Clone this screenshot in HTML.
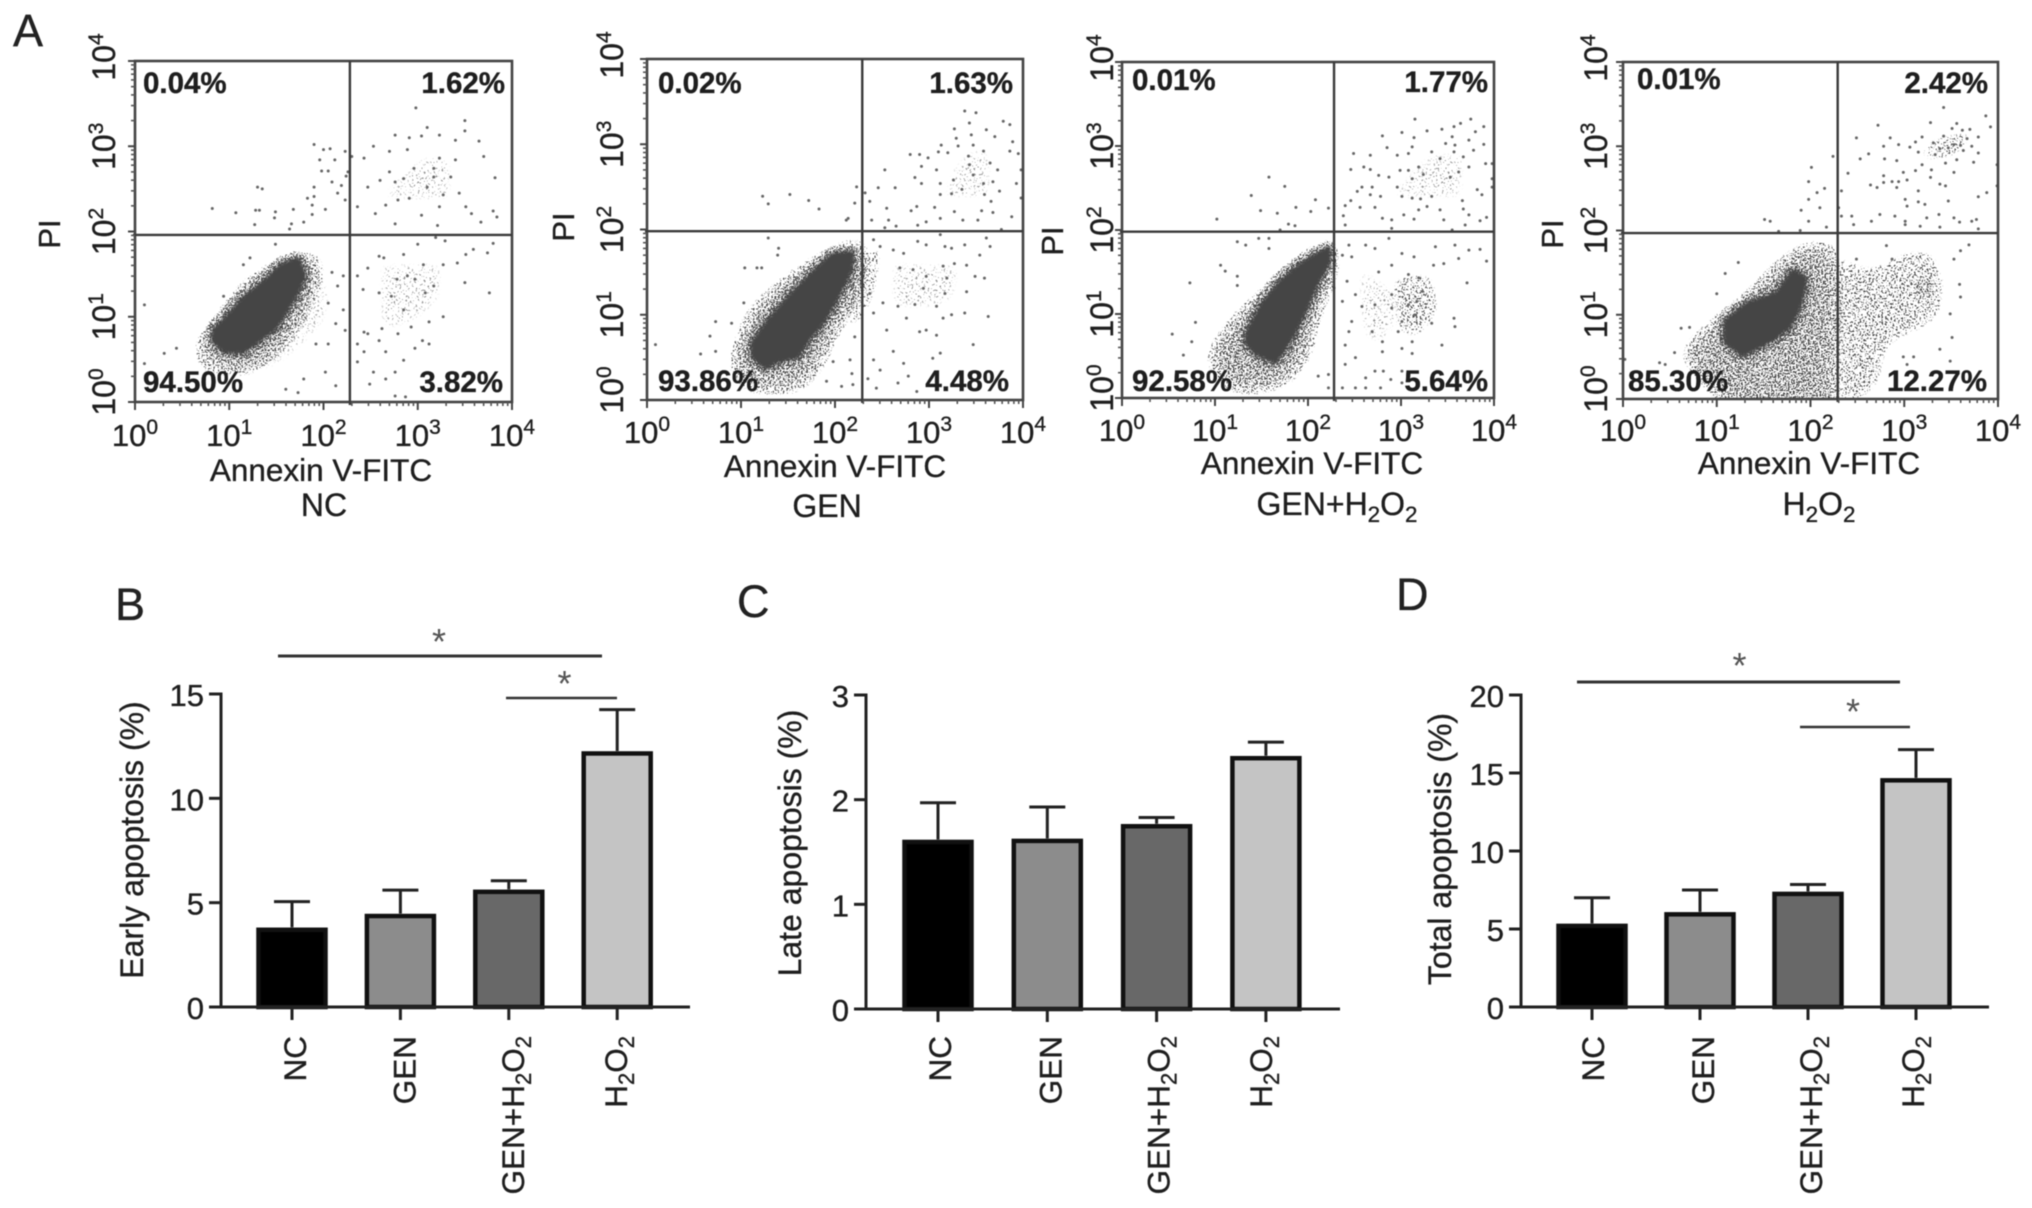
<!DOCTYPE html>
<html lang="en">
<head>
<meta charset="utf-8">
<title>Apoptosis flow cytometry and bar charts</title>
<style>
html,body{margin:0;padding:0;background:#fff;}
svg{display:block;filter:blur(0.6px);}
text{font-family:"Liberation Sans",Arial,sans-serif;fill:#1e1e1e;stroke:#1e1e1e;stroke-width:.35px;}
.pct{font-weight:bold;font-size:29.5px;}
.panel{font-size:45px;fill:#222;}
</style>
</head>
<body>
<svg id="figure" xmlns="http://www.w3.org/2000/svg" width="2032" height="1208" viewBox="0 0 2032 1208">
<rect width="2032" height="1208" fill="#fff"/>
<defs>
<filter id="stip-sparse" x="-30%" y="-30%" width="160%" height="160%" color-interpolation-filters="sRGB">
<feGaussianBlur in="SourceAlpha" stdDeviation="14" result="m"/>
<feTurbulence type="fractalNoise" baseFrequency="0.5" numOctaves="2" seed="21" result="n"/>
<feColorMatrix in="n" type="matrix" values="0 0 0 0 0 0 0 0 0 0 0 0 0 0 0 3.2 0 0 0 -1.1" result="na"/>
<feComposite in="m" in2="na" operator="arithmetic" k1="1" k2="0" k3="0" k4="0" result="mn"/>
<feComponentTransfer in="mn" result="th"><feFuncA type="linear" slope="14" intercept="-13.4"/></feComponentTransfer>
<feFlood flood-color="#4a4a4a"/><feComposite in2="th" operator="in"/>
</filter>
<filter id="stip-low" x="-30%" y="-30%" width="160%" height="160%" color-interpolation-filters="sRGB">
<feGaussianBlur in="SourceAlpha" stdDeviation="10" result="m"/>
<feTurbulence type="fractalNoise" baseFrequency="0.55" numOctaves="2" seed="3" result="n"/>
<feColorMatrix in="n" type="matrix" values="0 0 0 0 0 0 0 0 0 0 0 0 0 0 0 3.2 0 0 0 -1.1" result="na"/>
<feComposite in="m" in2="na" operator="arithmetic" k1="1" k2="0" k3="0" k4="0" result="mn"/>
<feComponentTransfer in="mn" result="th"><feFuncA type="linear" slope="14" intercept="-10.8"/></feComponentTransfer>
<feFlood flood-color="#4a4a4a"/><feComposite in2="th" operator="in"/>
</filter>
<filter id="stip-mid" x="-30%" y="-30%" width="160%" height="160%" color-interpolation-filters="sRGB">
<feGaussianBlur in="SourceAlpha" stdDeviation="11" result="m"/>
<feTurbulence type="fractalNoise" baseFrequency="0.6" numOctaves="2" seed="8" result="n"/>
<feColorMatrix in="n" type="matrix" values="0 0 0 0 0 0 0 0 0 0 0 0 0 0 0 3.2 0 0 0 -1.1" result="na"/>
<feComposite in="m" in2="na" operator="arithmetic" k1="1" k2="0" k3="0" k4="0" result="mn"/>
<feComponentTransfer in="mn" result="th"><feFuncA type="linear" slope="14" intercept="-8.7"/></feComponentTransfer>
<feFlood flood-color="#4a4a4a"/><feComposite in2="th" operator="in"/>
</filter>
<filter id="stip-high" x="-30%" y="-30%" width="160%" height="160%" color-interpolation-filters="sRGB">
<feGaussianBlur in="SourceAlpha" stdDeviation="11" result="m"/>
<feTurbulence type="fractalNoise" baseFrequency="0.6" numOctaves="2" seed="14" result="n"/>
<feColorMatrix in="n" type="matrix" values="0 0 0 0 0 0 0 0 0 0 0 0 0 0 0 3.2 0 0 0 -1.1" result="na"/>
<feComposite in="m" in2="na" operator="arithmetic" k1="1" k2="0" k3="0" k4="0" result="mn"/>
<feComponentTransfer in="mn" result="th"><feFuncA type="linear" slope="14" intercept="-7.7"/></feComponentTransfer>
<feFlood flood-color="#4a4a4a"/><feComposite in2="th" operator="in"/>
</filter>
<filter id="stip-dense" x="-30%" y="-30%" width="160%" height="160%" color-interpolation-filters="sRGB">
<feGaussianBlur in="SourceAlpha" stdDeviation="7" result="m"/>
<feTurbulence type="fractalNoise" baseFrequency="0.6" numOctaves="2" seed="31" result="n"/>
<feColorMatrix in="n" type="matrix" values="0 0 0 0 0 0 0 0 0 0 0 0 0 0 0 3.2 0 0 0 -1.1" result="na"/>
<feComposite in="m" in2="na" operator="arithmetic" k1="1" k2="0" k3="0" k4="0" result="mn"/>
<feComponentTransfer in="mn" result="th"><feFuncA type="linear" slope="14" intercept="-5.4"/></feComponentTransfer>
<feFlood flood-color="#4a4a4a"/><feComposite in2="th" operator="in"/>
</filter>
<filter id="soft" x="-10%" y="-10%" width="120%" height="120%"><feGaussianBlur stdDeviation="1.5"/></filter>
</defs>
<text class="panel" x="13" y="46">A</text>
<text class="panel" x="115" y="620">B</text>
<text class="panel" x="737" y="617">C</text>
<text class="panel" x="1396" y="610">D</text>
</svg>
<script>
// ---- flow cytometry data, in log10 decades (x = Annexin V-FITC, y = PI) ----
const decadeTicks = [0, 1, 2, 3, 4];
const ncPercents = ["0.04%", "1.62%", "94.50%", "3.82%"];
const genPercents = ["0.02%", "1.63%", "93.86%", "4.48%"];
const genH2o2Percents = ["0.01%", "1.77%", "92.58%", "5.64%"];
const h2o2Percents = ["0.01%", "2.42%", "85.30%", "12.27%"];

const ncCore = [.84,.84,.99,1,1.145,1.2,1.37,1.4,1.56,1.6,1.73,1.67,1.79,1.48,1.71,1.28,1.6,1.08,1.49,.88,1.3,.72,1.145,.6,.955,.6,.84,.72];
const ncHalo = [.58,.68,.8,1,1.15,1.48,1.6,1.77,1.98,1.81,2.05,1.48,1.87,1,1.6,.55,1.22,.27,.69,.31];
const ncLow = [1.6,1.85,2.3,1.6,2.3,.9,1.9,.4,1.5,.1,1,.1,.6,.5];
const ncLowerRight = [2.35,1.9,3.5,1.9,3.5,1.1,3.1,.7,2.5,.5,2.35,.9];
const ncUpperRight = [2.35,2.1,3.6,2.1,3.6,3.1,3,3.2,2.4,2.6];
const ncPoints = [2.98,3.45,3.5,3.3,3.5,3.18,3.1,3.22,2.76,3.13,3.23,3.13,3.04,3.12,2.91,3.1,3.65,3.06,3.4,3.07,2.53,3,2.89,2.96,2.7,2.94,3.7,2.88,3.4,2.84,3.23,2.86,2.43,2.86,2.3,2.88,3.17,2.74,2.96,2.74,2.7,2.7,3.82,2.63,3.35,2.64,3.17,2.64,2.85,2.62,2.6,2.6,2.76,2.58,2.47,2.52,3.1,2.52,3.27,2.43,2.91,2.39,2.79,2.37,2.66,2.31,3.44,2.45,3.51,2.29,3.23,2.29,2.36,2.29,2.55,2.21,3.04,2.19,3.57,2.21,3.8,2.24,3.84,2.17,2.76,2.09,3.21,2.07,3.67,2.11,1.9,3.02,2,2.96,2.07,2.97,2.23,2.94,1.96,2.84,2.12,2.84,1.98,2.71,2.05,2.71,2.26,2.7,2.24,2.65,2.09,2.58,2.19,2.54,1.3,2.52,1.35,2.5,1.9,2.52,2.15,2.45,1.83,2.39,1.9,2.41,1.88,2.31,2.23,2.37,.82,2.27,1.07,2.22,1.28,2.25,1.32,2.25,1.49,2.23,1.48,2.16,1.68,2.26,2.02,2.26,1.88,2.2,1.79,2.11,1.66,2.09,1.64,2.03,1.27,2.08,2.59,1.71,2.64,1.69,3,1.85,2.85,1.73,3.19,1.93,3.29,1.89,3.42,1.63,3.51,1.73,3.8,1.86,3.59,1.79,3.74,1.75,3.06,1.61,3.27,1.61,2.89,1.48,2.78,1.44,2.97,1.44,2.47,1.57,2.36,1.48,2.42,1.32,2.59,1.28,2.72,1.24,2.85,1.08,3.08,1.28,3.17,1.36,3.5,1.4,3.76,1.28,3.27,1,3.12,.94,2.93,.88,2.79,.8,2.62,.86,2.43,.82,2.47,.8,3.05,.72,3.12,.68,2.59,.72,2.36,.68,2.43,.59,2.66,.59,2.97,.63,2.85,.49,2.36,.47,2.53,.35,2.66,.27,2.76,.35,2.49,.21,2.76,.07,2.87,.06,2.21,1.48,2.09,1.52,2.15,1.36,2.05,1.16,2.21,1.08,2.13,.92,2.23,.84,2.05,.68,2.02,.35,1.79,.27,1.6,.15,1.73,.11,2.13,.19,1.92,.68,.1,1.14,.94,1.24,1.15,1.61,1.22,1.69,1.49,1.85,.31,.57,.44,.63,.1,.45];

const genCore = [1.13,.67,1.31,.94,1.52,1.21,1.77,1.49,1.98,1.7,2.18,1.72,2.16,1.53,2.02,1.21,1.88,.94,1.7,.7,1.59,.51,1.38,.47,1.27,.39,1.13,.51];
const genHalo = [.85,.55,1.03,1.06,1.31,1.37,1.7,1.68,2.12,1.92,2.37,1.92,2.41,1.64,2.27,1.14,2.05,.7,1.88,.31,1.63,.04,1.06,.04,.85,.31];
const genLow = [2.3,1.9,2.6,1.9,2.5,1.2,2.3,.8,2.1,.6,2,1.2];
const genLowerRight = [2.35,1.9,3.6,1.85,3.5,1,3.1,.8,2.5,.8,2.35,1.1];
const genUpperRight = [2.8,2.1,3.9,2.1,3.9,3.1,3.4,3.3,3,2.8];
const genPoints = [3.38,3.39,3.5,3.37,3.43,3.25,3.27,3.18,3.79,3.27,3.86,3.23,3.61,3.17,3.7,3.09,3.45,3.11,3.89,3.03,3.29,3.07,3.13,2.99,3.31,2.98,3.47,2.99,3.86,2.92,3.95,2.89,3.58,2.92,3.2,2.9,2.8,2.88,2.9,2.88,2.99,2.84,3.42,2.86,3.1,2.91,3.43,2.76,2.92,2.74,3.08,2.7,2.53,2.7,3.65,2.78,3.73,2.7,3.98,2.7,3.47,2.64,3.26,2.58,2.85,2.61,2.92,2.54,3.12,2.54,3.58,2.54,3.68,2.56,3.93,2.54,2.64,2.49,2.46,2.49,2.23,2.5,3.35,2.47,3.75,2.45,3.12,2.41,3.24,2.42,2.32,2.43,3.59,2.41,3.98,2.37,3.66,2.33,2.37,2.33,2.21,2.31,2.87,2.27,3.06,2.26,2.55,2.25,2.81,2.22,3.27,2.21,3.56,2.22,3.68,2.2,3.88,2.15,2.39,2.11,3.12,2.13,2.97,2.09,3.36,2.11,3.52,2.11,2.57,2.11,2.53,2.02,2.65,2.04,2.88,2.05,3.77,2,1.23,2.39,1.52,2.41,1.29,2.3,1.72,2.34,1.83,2.24,2.12,2.11,2.14,2.13,2.88,1.86,2.97,1.82,3.12,1.94,3.17,1.8,3.24,1.78,3.38,1.82,3.65,1.8,3.61,1.9,3.54,1.7,2.62,1.76,2.73,1.72,2.48,1.8,2.41,1.88,2.69,1.55,2.83,1.53,3.15,1.57,3.27,1.6,3.4,1.58,3.59,1.43,3.49,1.45,2.97,1.45,3.19,1.43,2.94,1.31,3.17,1.25,3.4,1.27,2.85,1.12,2.67,1.1,3.08,1.1,3.24,1,3.38,1.02,3.63,.98,3.15,.96,2.76,.96,2.51,1.14,2.37,1.25,2.41,1.02,2.55,.82,2.9,.8,2.97,.82,3.08,.76,3.47,.65,2.62,.57,3.12,.55,3.04,.49,2.73,.43,2.41,.47,2.35,.25,2.48,.35,2.78,.28,2.67,.2,2.44,.14,2.87,.1,1.04,1.55,1.17,1.55,1.22,1.55,1.4,1.78,1.39,1.7,1.29,1.9,.73,.92,.9,.9,.67,.75,.09,.65,.57,.54,.73,.57,1.03,1.14,2.16,.47,2.19,.18,2.07,.16,1.91,.22,2.18,.31,1.98,.45,2.21,.74];

const genH2o2Core = [1.36,.79,1.51,1.11,1.72,1.39,1.97,1.62,2.22,1.78,2.22,1.62,2.08,1.35,1.94,.99,1.83,.75,1.65,.44,1.43,.55,1.34,.67];
const genH2o2Halo = [.93,.67,1.18,1.03,1.47,1.31,1.72,1.62,2.15,1.86,2.4,1.78,2.33,1.39,2.15,.91,2.08,.51,1.83,.12,1.43,0,1.11,.04,.86,.4];
const genH2o2Low = [2.3,1.9,2.7,1.8,3.3,1.3,3.2,.7,2.8,.3,2.4,.5,2.3,1];
const genH2o2Cluster = [2.8,1.5,3.4,1.6,3.5,1,3.2,.6,2.9,.7];
const genH2o2Upper = [2.5,2.1,3.9,2.1,3.95,3.2,3.2,3.2,2.7,2.6];
const genH2o2Points = [3.15,3.32,3.75,3.32,3.64,3.27,3.57,3.23,3.89,3.23,3.8,3.17,3.44,3.2,3.01,3.16,3.28,3.18,2.8,3.12,3.14,3.1,3.55,3.11,3.73,3.07,3.48,3.03,3.89,3.02,3.58,3.01,3.12,2.99,2.85,2.98,3.33,2.93,3.78,2.95,2.49,2.91,3.08,2.91,3.57,2.93,2.96,2.89,2.67,2.89,3.42,2.85,3.67,2.87,3.91,2.79,3.98,2.79,2.6,2.75,2.46,2.72,2.67,2.72,3.19,2.75,3.08,2.71,3.62,2.69,2.99,2.71,3.73,2.75,2.76,2.65,2.87,2.63,3.24,2.66,3.53,2.63,3.98,2.61,3.12,2.61,2.96,2.51,2.58,2.51,2.69,2.51,3.82,2.48,3.98,2.51,2.53,2.46,2.67,2.42,3.87,2.42,3.01,2.4,2.78,2.4,3.33,2.4,3.12,2.38,3.21,2.37,3.66,2.35,2.46,2.35,2.4,2.29,3.28,2.28,2.56,2.27,2.72,2.27,3.67,2.25,3.42,2.24,3.19,2.24,3.92,2.15,3.03,2.18,3.73,2.18,3.14,2.13,2.38,2.17,3.46,2.12,3.85,2.11,2.9,2.12,2.8,2.14,3.69,2.06,2.4,2.06,2.9,2.02,3.55,2,1.58,2.63,1.75,2.52,1.39,2.41,1.02,2.13,1.49,2.23,1.67,2.2,1.87,2.27,2.08,2.36,2.03,2.22,2.22,2.26,1.79,2.07,1.86,2.05,1.7,2,3.92,1.63,3.85,1.77,3.73,1.76,3.58,1.82,3.62,1.66,3.71,1.37,3.37,1.8,3.46,1.6,3.35,1.58,3.14,1.68,3.01,1.72,2.87,1.9,2.72,1.78,2.9,1.58,2.76,1.5,3.08,1.47,3.19,1.43,3.23,1.27,2.9,1.23,2.9,1.07,3.08,1.11,3.17,1.15,3.01,.91,3.15,.99,3.33,.89,3.57,.95,3.58,.85,2.97,.79,3.12,.67,3.44,.63,3.01,.59,3.12,.53,2.72,1.11,2.58,1.09,2.47,.91,2.44,.79,2.69,.79,2.51,.48,2.8,.67,2.8,.55,2.4,.63,2.4,.4,2.62,.24,2.72,.32,2.81,.32,3.01,.32,2.89,.22,3.01,.18,2.78,.12,2.62,.12,2.51,.12,2.37,.12,2.22,.28,2.11,.26,2.22,.12,2.37,1.7,2.47,1.68,2.44,1.82,2.62,1.82,2.37,1.15,2.28,1.31,2.42,1.39,2.51,1.23,1.24,1.86,1.33,1.82,1.47,1.9,1.58,1.9,1.58,1.78,1.06,1.58,1.11,1.51,1.24,1.45,1.24,1.34,.73,1.37,.54,.76,.79,.9,.66,.51,.75,.67];

const h2o2Core = [1.1,.92,1.32,1.12,1.64,1.24,1.82,1.51,1.94,1.43,1.89,1.15,1.78,.88,1.6,.72,1.28,.53,1.1,.68];
const h2o2Halo = [.71,.76,1,1.04,1.32,1.32,1.57,1.63,1.92,1.9,2.3,1.9,2.38,1.24,2.34,.53,2.34,-.2,1.1,-.2,.72,.29,.55,.53];
const h2o2Right = [2.18,1.86,2.64,1.62,3.03,1.86,3.38,1.82,3.52,1.38,3.45,.92,3.17,.72,2.88,.6,2.81,.13,2.46,-.2,2.18,-.2];
const h2o2Cluster = [3.03,1.3,3.17,1.58,3.35,1.58,3.38,1.34,3.28,1.11,3.1,1.11];
const h2o2Upper = [3.1,3.1,3.7,3.3,3.9,3.2,3.6,2.8,3.1,2.7];
const h2o2Points = [3.42,3.46,3.87,3.36,2.72,3.25,3.28,3.28,3.92,3.23,3.56,3.27,3.7,3.2,3.62,3.19,3.51,3.21,2.49,3.1,2.85,3.1,3.19,3.11,3.42,3.12,3.79,3.11,3.67,3.09,3.12,3.05,2.94,3.02,3.31,3.04,3.53,3.02,3.6,3.01,3.72,3,2.78,3,3.06,2.99,3.38,2.97,3.47,2.98,3.63,2.95,3.79,2.92,2.62,2.91,3.15,2.93,3.33,2.9,2.53,2.85,2.79,2.85,2.92,2.83,2.24,2.88,3.56,2.84,3.74,2.81,3.19,2.78,3.12,2.71,3.29,2.72,3.44,2.8,2.99,2.69,3.99,2.78,2.01,2.75,2.4,2.68,3.53,2.69,3.03,2.6,1.98,2.58,2.78,2.65,3.28,2.63,2.94,2.58,2.87,2.58,2.64,2.54,2.78,2.57,3.38,2.55,3.44,2.53,2.71,2.51,3.99,2.53,2.92,2.51,2.15,2.5,2.07,2.45,2.33,2.47,3.15,2.47,3.88,2.45,3.79,2.4,1.98,2.37,3.01,2.37,3.15,2.34,3.22,2.31,3.47,2.35,2.1,2.27,3.03,2.29,1.9,2.24,2.74,2.19,2.3,2.27,2.44,2.17,2.33,2.17,2.9,2.17,3.37,2.19,3.24,2.15,3.53,2.15,2.65,2.11,3.01,2.11,3.72,2.11,3.59,2.1,3.77,2.13,1.51,2.13,1.57,2.11,1.98,2.11,2.46,2.07,3.01,2.07,3.38,2.04,3.17,2.05,3.79,2.02,1.66,1.99,1.89,2,2.17,2.04,3.69,1.83,3.6,1.76,3.53,1.66,3.59,1.36,3.6,1.21,3.49,1.01,3.51,.73,3.38,.59,3.49,.45,2.49,1.66,2.81,1.82,2.87,1.66,3.03,.41,2.99,.5,3.1,.5,1.23,1.62,1.09,1.49,1,1.25,.62,.84,.71,.85,.39,.43,.45,.41,.02,.47,.55,.55];

// ---- bar chart data ----
const barCategories = ["NC", "GEN", "GEN+H2O2", "H2O2"];
const earlyMeans = [3.82, 4.48, 5.64, 12.27];
const earlyErrorTops = [5.05, 5.6, 6.05, 14.25];
const earlyTicks = [0, 5, 10, 15];
const lateMeans = [1.62, 1.63, 1.77, 2.42];
const lateErrorTops = [1.97, 1.93, 1.83, 2.55];
const lateTicks = [0, 1, 2, 3];
const totalMeans = [5.36, 6.1, 7.41, 14.69];
const totalErrorTops = [7, 7.5, 7.85, 16.5];
const totalTicks = [0, 5, 10, 15, 20];
const barFills = ["#000000", "#8c8c8c", "#686868", "#c4c4c4"];

const SVGNS = "http://www.w3.org/2000/svg";
const figure = document.getElementById("figure");

function make(parent, tag, attrs) {
  const el = document.createElementNS(SVGNS, tag);
  for (const k in attrs) el.setAttribute(k, attrs[k]);
  parent.appendChild(el);
  return el;
}
function line(parent, x1, y1, x2, y2, color, width) {
  return make(parent, "line", {x1: x1, y1: y1, x2: x2, y2: y2, stroke: color, "stroke-width": width});
}
function richLabel(el, label, size) {
  // digits after a letter in chemical names become subscripts
  const parts = label.match(/[A-Za-z+]+|\d/g);
  let shift = 0;
  parts.forEach(function (p) {
    const t = document.createElementNS(SVGNS, "tspan");
    if (/\d/.test(p)) {
      t.setAttribute("font-size", size * 0.7);
      t.setAttribute("dy", 7 - shift);
      shift = 7;
    } else {
      t.setAttribute("dy", -shift);
      shift = 0;
    }
    t.textContent = p;
    el.appendChild(t);
  });
}
function powerLabel(el, exponent) {
  const base = document.createElementNS(SVGNS, "tspan");
  base.textContent = "10";
  el.appendChild(base);
  const sup = document.createElementNS(SVGNS, "tspan");
  sup.setAttribute("font-size", 21);
  sup.setAttribute("dy", -12);
  sup.textContent = String(exponent);
  el.appendChild(sup);
}

function drawFlow(name, frame, gateX, gateY, percents, percentPos, regions, core, points, labels) {
  const sx = function (d) { return frame.left + d * (frame.right - frame.left) / 4; };
  const sy = function (d) { return frame.bottom - d * (frame.bottom - frame.top) / 4; };
  const g = make(figure, "g", {});
  
  

  const clipId = "clip-" + name;
  const clip = make(make(g, "defs", {}), "clipPath", {id: clipId});
  make(clip, "rect", {x: frame.left, y: frame.top, width: frame.right - frame.left, height: frame.bottom - frame.top});
  const dots = make(g, "g", {"clip-path": "url(#" + clipId + ")"});
  
  

  const toPath = function (arr) {
    let d = "";
    for (let i = 0; i < arr.length; i += 2) d += (i ? "L" : "M") + sx(arr[i]) + " " + sy(arr[i + 1]);
    return d + "Z";
  };
  regions.forEach(function (r) {
    const p = make(dots, "path", {d: toPath(r.shape), fill: "#000", filter: "url(#stip-" + r.level + ")"});
    
    
  });
  const ring = make(dots, "path", {d: toPath(core), fill: "#000", stroke: "#000", "stroke-width": 18, "stroke-linejoin": "round", filter: "url(#stip-dense)"});
  
  
  const c = make(dots, "path", {d: toPath(core), fill: "#444", stroke: "#444", "stroke-width": 5, "stroke-linejoin": "round", filter: "url(#soft)"});
  
  
  for (let i = 0; i < points.length; i += 2) {
    const dot = make(dots, "circle", {cx: sx(points[i]), cy: sy(points[i + 1]), r: 1.5, fill: "#666"});
    
    
  }

  // frame and quadrant gates
  const box = make(g, "rect", {x: frame.left, y: frame.top, width: frame.right - frame.left, height: frame.bottom - frame.top, fill: "none", stroke: "#444", "stroke-width": 2.6});
  
  
  const gv = line(g, sx(gateX), frame.top, sx(gateX), frame.bottom + 3, "#3a3a3a", 2.4);
  
  
  const gh = line(g, frame.left - 2, sy(gateY), frame.right, sy(gateY), "#3a3a3a", 2.4);
  
  

  // log axes
  decadeTicks.forEach(function (dec, i) {
    const xt = line(g, sx(dec), frame.bottom, sx(dec), frame.bottom + 8, "#444", 2);
    
    
    const yt = line(g, frame.left, sy(dec), frame.left - 7, sy(dec), "#444", 2);
    
    
    if (i < 4) {
      for (let m = 2; m < 10; m++) {
        const off = Math.log10(m);
        const xm = line(g, sx(dec + off), frame.bottom, sx(dec + off), frame.bottom + 4, "#555", 1.6);
        
        
        const ym = line(g, frame.left, sy(dec + off), frame.left - 4, sy(dec + off), "#555", 1.6);
        
        
      }
    }
    const xl = make(g, "text", {x: sx(dec), y: labels.xTickBase, "text-anchor": "middle", "font-size": 31});
    
    
    powerLabel(xl, dec);
    const yy = sy(dec) - (dec === 0 ? 10 : dec === 4 ? 4 : 0);
    const yl = make(g, "text", {transform: "translate(" + labels.yTickBase + " " + yy + ") rotate(-90)", "text-anchor": "middle", "font-size": 32});
    
    
    powerLabel(yl, dec);
  });

  // percentages
  percents.forEach(function (txt, i) {
    const pos = percentPos[i];
    const t = make(g, "text", {class: "pct", x: pos[0], y: pos[1], "text-anchor": i % 2 ? "end" : "start"});
    
    
    t.textContent = txt;
  });

  // axis titles
  const xt = make(g, "text", {x: labels.xTitleX, y: labels.xTitleBase, "text-anchor": "middle", "font-size": 31.5});
  
  
  xt.textContent = "Annexin V-FITC";
  const cap = make(g, "text", {x: labels.capX, y: labels.capBase, "text-anchor": "middle", "font-size": 32});
  
  
  richLabel(cap, labels.caption, 32);
  const pi = make(g, "text", {transform: "translate(" + labels.piX + " " + labels.piY + ") rotate(-90)", "text-anchor": "middle", "font-size": 31});
  
  
  pi.textContent = "PI";
}

drawFlow("nc", {left: 135, right: 512, top: 61, bottom: 402}, 2.28, 1.96, ncPercents,
  [[143, 93], [505, 93], [143, 392], [503, 392]],
  [{shape: ncUpperRight, level: "sparse"}, {shape: ncLowerRight, level: "sparse"}, {shape: ncLow, level: "sparse"}, {shape: ncHalo, level: "high"}], ncCore, ncPoints,
  {xTickBase: 446, yTickBase: 115, xTitleX: 321, xTitleBase: 481, capX: 324, capBase: 516, caption: "NC", piX: 60, piY: 234});
drawFlow("gen", {left: 647, right: 1023, top: 59, bottom: 400}, 2.29, 1.98, genPercents,
  [[658, 93], [1013, 93], [658, 391], [1009, 391]],
  [{shape: genUpperRight, level: "sparse"}, {shape: genLowerRight, level: "sparse"}, {shape: genLow, level: "low"}, {shape: genHalo, level: "high"}], genCore, genPoints,
  {xTickBase: 443, yTickBase: 623, xTitleX: 835, xTitleBase: 477, capX: 827, capBase: 517, caption: "GEN", piX: 574, piY: 227});
drawFlow("gen-h2o2", {left: 1122, right: 1494, top: 62, bottom: 398}, 2.28, 1.98, genH2o2Percents,
  [[1132, 90], [1488, 92], [1132, 391], [1488, 391]],
  [{shape: genH2o2Upper, level: "sparse"}, {shape: genH2o2Low, level: "sparse"}, {shape: genH2o2Cluster, level: "low"}, {shape: genH2o2Halo, level: "high"}], genH2o2Core, genH2o2Points,
  {xTickBase: 441, yTickBase: 1113, xTitleX: 1312, xTitleBase: 474, capX: 1337, capBase: 515, caption: "GEN+H2O2", piX: 1063, piY: 241});
drawFlow("h2o2", {left: 1623, right: 1998, top: 62, bottom: 399}, 2.29, 1.97, h2o2Percents,
  [[1637, 89], [1988, 93], [1628, 391], [1987, 391]],
  [{shape: h2o2Upper, level: "low"}, {shape: h2o2Right, level: "low"}, {shape: h2o2Halo, level: "high"}, {shape: h2o2Cluster, level: "high"}], h2o2Core, h2o2Points,
  {xTickBase: 441, yTickBase: 1607, xTitleX: 1809, xTitleBase: 474, capX: 1819, capBase: 515, caption: "H2O2", piX: 1563, piY: 234});

function drawBars(name, frame, ticks, means, tops, title, sigLines) {
  const sy = function (v) { return frame.base - v * (frame.base - frame.topY) / ticks[ticks.length - 1]; };
  const sx = function (i) { return frame.firstX + i * frame.stepX; };
  const g = make(figure, "g", {});
  
  

  means.forEach(function (m, i) {
    const cx = sx(i);
    const stem = line(g, cx, sy(tops[i]), cx, sy(m), "#222", 3);
    
    
    const capLine = line(g, cx - 18, sy(tops[i]), cx + 18, sy(tops[i]), "#222", 3);
    
    
    const barTop = sy(m) + 2.5;
    const bar = make(g, "rect", {x: cx - 33.5, y: barTop, width: 67, height: frame.base - barTop, fill: barFills[i], stroke: "#111", "stroke-width": 4.5});
    
    
    const tk = line(g, cx, frame.base, cx, frame.base + 13, "#222", 3);
    
    
    const lab = make(g, "text", {transform: "translate(" + (cx + frame.labelShift[i]) + " 1036) rotate(-90)", "text-anchor": "end", "font-size": 31.5});
    
    
    richLabel(lab, barCategories[i], 31.5);
  });

  const yAxis = line(g, frame.axisX, frame.topY - 1.5, frame.axisX, frame.base + 1.5, "#222", 3);
  
  
  const xAxis = line(g, frame.axisX - 12, frame.base, frame.axisEnd, frame.base, "#222", 3);
  
  
  ticks.forEach(function (v) {
    const t = line(g, frame.axisX - 12, sy(v), frame.axisX, sy(v), "#222", 3);
    
    
    const l = make(g, "text", {x: frame.axisX - 17, y: sy(v) + 12, "text-anchor": "end", "font-size": 31});
    
    
    l.textContent = String(v);
  });
  const yt = make(g, "text", {transform: "translate(" + frame.titleX + " " + frame.titleY + ") rotate(-90)", "text-anchor": "middle", "font-size": 32});
  
  
  yt.textContent = title;

  sigLines.forEach(function (s) {
    const ln = line(g, s.x1, s.y, s.x2, s.y, "#333", s.w);
    
    
    const st = make(g, "text", {x: s.sx, y: s.sy + 18, "text-anchor": "middle", "font-size": 36});
    st.setAttribute("style", "fill:#555;stroke:none");
    
    
    st.textContent = "*";
  });
}

drawBars("early-apoptosis", {base: 1007, topY: 694, axisX: 221, axisEnd: 690, firstX: 292, stepX: 108.4, titleX: 143, titleY: 840, labelShift: [14, 15, 15, 10]},
  earlyTicks, earlyMeans, earlyErrorTops, "Early apoptosis (%)",
  [{x1: 278, x2: 602, y: 656, w: 3, sx: 439, sy: 636}, {x1: 506, x2: 617, y: 698, w: 2.5, sx: 564.5, sy: 678}]);
drawBars("late-apoptosis", {base: 1009, topY: 695, axisX: 866, axisEnd: 1340, firstX: 938, stepX: 109.3, titleX: 801, titleY: 843, labelShift: [13, 14, 13, 6]},
  lateTicks, lateMeans, lateErrorTops, "Late apoptosis (%)", []);
drawBars("total-apoptosis", {base: 1007, topY: 695, axisX: 1521, axisEnd: 1989, firstX: 1592, stepX: 108, titleX: 1451, titleY: 849, labelShift: [12, 14, 14, 8]},
  totalTicks, totalMeans, totalErrorTops, "Total apoptosis (%)",
  [{x1: 1577, x2: 1900, y: 682, w: 3, sx: 1739.5, sy: 660}, {x1: 1800, x2: 1910, y: 727, w: 2.5, sx: 1853, sy: 706}]);
</script>
</body>
</html>
